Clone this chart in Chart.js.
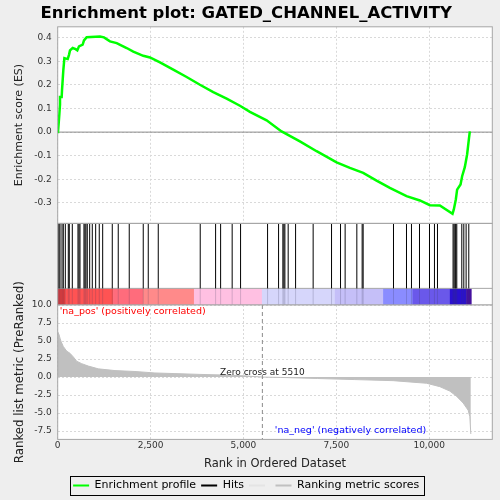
<!DOCTYPE html>
<html>
<head>
<meta charset="utf-8">
<script src="https://cdn.jsdelivr.net/npm/chart.js@4.4.1/dist/chart.umd.min.js"></script>
<style>
  html, body { margin: 0; padding: 0; background: #eeeeee; }
  #wrap { position: relative; width: 500px; height: 500px; overflow: hidden; }
  #wrap canvas { position: absolute; left: 0; }
</style>
</head>
<body>
<div id="wrap">
  <canvas id="esChart" width="500" height="224" style="top:0px"></canvas>
  <canvas id="hitChart" width="500" height="82" style="top:223px"></canvas>
  <canvas id="metricChart" width="500" height="263" style="top:240px"></canvas>
</div>
<script>
'use strict';

// ---- data ----
const xTicks = [0, 2500, 5000, 7500, 10000];
const esTicks = [-0.3, -0.2, -0.1, 0, 0.1, 0.2, 0.3, 0.4];
const metricTicks = [-7.5, -5, -2.5, 0, 2.5, 5, 7.5, 10];
const zeroCross = 5510;

// running enrichment score
const esRanks = [0, 8, 27, 45, 62, 62, 107, 116, 151, 180, 269, 304, 331, 403, 484, 528, 573, 672, 708, 780,
  1138, 1246, 1407, 1588, 1857, 2035, 2304, 2484, 2753, 3111, 3471, 3829, 4188, 4548, 4906, 5175, 5624,
  6027, 6520, 6970, 7508, 7866, 8224, 8584, 8942, 9391, 9750, 10019, 10288, 10629, 10664, 10718, 10753,
  10845, 10888, 10960, 11022, 11068, 11095];
const esScores = [0, 0.001, 0.039, 0.077, 0.117, 0.149, 0.149, 0.177, 0.262, 0.314, 0.310, 0.328, 0.347, 0.357,
  0.352, 0.347, 0.364, 0.371, 0.389, 0.403, 0.406, 0.402, 0.385, 0.378, 0.357, 0.342, 0.324, 0.317, 0.296,
  0.265, 0.234, 0.201, 0.170, 0.142, 0.112, 0.086, 0.050, 0.003, -0.039, -0.081, -0.128, -0.152, -0.173,
  -0.206, -0.237, -0.272, -0.290, -0.310, -0.311, -0.347, -0.328, -0.286, -0.244, -0.222, -0.187, -0.149,
  -0.095, -0.032, 0.003];

// gene set members in the ranked list
const hitRanks = [8, 35, 62, 116, 151, 205, 285, 312, 393, 546, 573, 600, 707, 734, 761, 796, 861, 931, 1022,
  1119, 1211, 1469, 1630, 1926, 2303, 2438, 2707, 3837, 4251, 4386, 4697, 4923, 5650, 5946, 6062, 6089,
  6116, 6205, 6404, 6877, 7372, 7614, 7738, 8053, 8196, 8223, 9040, 9390, 9524, 9740, 10009, 10143,
  10224, 10644, 10671, 10698, 10716, 10744, 10879, 10933, 10995, 11067];

// ranked list metric
const metricRanks = [0, 8, 35, 62, 89, 151, 242, 331, 420, 511, 646, 823, 1093, 1542, 2080, 2618, 3157, 3830,
  4500, 5000, 5510, 6000, 7000, 8000, 9031, 9930, 10288, 10557, 10737, 10915, 11050, 11095, 11122];
const metricValues = [6.3, 6.3, 5.9, 5.4, 4.96, 4.24, 3.6, 3.3, 2.8, 2.2, 1.86, 1.53, 1.14, 0.9, 0.77, 0.57,
  0.48, 0.37, 0.28, 0.18, 0, -0.05, -0.2, -0.35, -0.5, -0.86, -1.33, -1.95, -2.66, -3.6, -4.6, -5.5, -7.9];

// colour bar bands (rank edges)
const bandEdges = [0, 200, 1490, 2295, 3668, 5498, 7460, 8760, 9553, 10557, 11000, 11130];

const legendNames = ['Enrichment profile', 'Hits', '', 'Ranking metric scores'];

// ---- styles ----
const FONT = 'DejaVu Sans';
const xMax = 11700;
const esMin = -0.387, esMax = 0.447;
const metricMin = -8.65, metricMax = 10;
const bandColors = ['#e23c3c', '#ff5353', '#ff6c7c', '#ff8a8a', '#ffc0e2', '#d6d6fb', '#c5bff8',
  '#8a8cff', '#6a58ea', '#2a10d0', '#45109e'];
const legendColors = ['#00ff00', '#000000', '#e4e4e4', '#c0c0c0'];
const gridColor = '#d9d9d9';
const frameColor = '#a6a6a6';
const AXIS_W = 57.7;

function pts(xs, ys) {
  return xs.map(function (x, i) { return { x: x, y: ys[i] }; });
}

// white plot area + grey frame
const panelPlugin = {
  id: 'panel',
  beforeDraw: function (chart) {
    const a = chart.chartArea, ctx = chart.ctx;
    ctx.save();
    ctx.fillStyle = '#ffffff';
    ctx.fillRect(a.left, a.top, a.right - a.left, a.bottom - a.top);
    ctx.restore();
  },
  afterDraw: function (chart) {
    const a = chart.chartArea, ctx = chart.ctx;
    ctx.save();
    ctx.strokeStyle = frameColor;
    ctx.lineWidth = 1;
    ctx.strokeRect(a.left, a.top, a.right - a.left, a.bottom - a.top);
    ctx.restore();
  }
};

//ES chart
const esZeroLine = {
  id: 'esZero',
  beforeDatasetsDraw: function (chart) {
    const a = chart.chartArea, ctx = chart.ctx;
    const y = chart.scales.y.getPixelForValue(0);
    ctx.save();
    ctx.strokeStyle = '#8c8c8c';
    ctx.lineWidth = 1;
    ctx.beginPath();
    ctx.moveTo(a.left, y);
    ctx.lineTo(a.right, y);
    ctx.stroke();
    ctx.restore();
  }
};

new Chart(document.getElementById('esChart'), {
  type: 'line',
  data: {
    datasets: [{
      label: 'Enrichment profile',
      data: pts(esRanks, esScores),
      borderColor: '#00ff00',
      borderWidth: 2.5,
      pointRadius: 0,
      tension: 0
    }]
  },
  options: {
    responsive: false,
    animation: false,
    layout: { padding: { left: 0, right: 7.7, top: 0, bottom: 0.7 } },
    plugins: {
      legend: { display: false },
      tooltip: { enabled: false },
      title: {
        display: true,
        text: 'Enrichment plot: GATED_CHANNEL_ACTIVITY',
        color: '#000000',
        font: { family: FONT, size: 16.5, weight: 'bold' },
        padding: { top: 4, bottom: 3 }
      }
    },
    scales: {
      x: {
        type: 'linear', min: 0, max: xMax,
        afterBuildTicks: function (s) { s.ticks = xTicks.map(function (v) { return { value: v }; }); },
        afterFit: function (s) { s.height = 0; },
        ticks: { display: false },
        grid: { color: gridColor, drawTicks: false },
        border: { display: false, dash: [2, 2] }
      },
      y: {
        min: esMin, max: esMax,
        afterBuildTicks: function (s) { s.ticks = esTicks.map(function (v) { return { value: v }; }); },
        afterFit: function (s) { s.width = AXIS_W; s.paddingTop = 0; s.paddingBottom = 0; },
        ticks: {
          color: '#333333', padding: 6,
          font: { family: FONT, size: 9 },
          callback: function (v) { return Number(v).toFixed(1); }
        },
        title: {
          display: true, text: 'Enrichment score (ES)', color: '#222222',
          font: { family: FONT, size: 11 }, padding: { top: 13, bottom: 0 }
        },
        grid: { color: gridColor, drawTicks: false },
        border: { display: false, dash: [2, 2] }
      }
    }
  },
  plugins: [panelPlugin, esZeroLine]
});

// hits + colour bar
const colorBarTop = 0.204;
const colorBarPlugin = {
  id: 'colorBar',
  beforeDatasetsDraw: function (chart) {
    const x = chart.scales.x, y = chart.scales.y, ctx = chart.ctx;
    const top = y.getPixelForValue(colorBarTop), bottom = y.getPixelForValue(0);
    ctx.save();
    for (let i = 0; i < bandColors.length; i++) {
      const x0 = x.getPixelForValue(bandEdges[i]);
      const x1 = x.getPixelForValue(bandEdges[i + 1]);
      ctx.fillStyle = bandColors[i];
      ctx.fillRect(x0, top, x1 - x0 + 0.5, bottom - top);
    }
    ctx.strokeStyle = frameColor;
    ctx.lineWidth = 1;
    ctx.beginPath();
    ctx.moveTo(chart.chartArea.left, top);
    ctx.lineTo(chart.chartArea.right, top);
    ctx.stroke();
    ctx.restore();
  }
};

const hitLines = [], hitShades = [];
hitRanks.forEach(function (r) {
  hitLines.push({ x: r, y: colorBarTop }, { x: r, y: 1 }, { x: r, y: null });
  hitShades.push({ x: r, y: 0 }, { x: r, y: colorBarTop }, { x: r, y: null });
});

new Chart(document.getElementById('hitChart'), {
  type: 'line',
  data: {
    datasets: [{
      label: 'Hits',
      data: hitLines,
      borderColor: '#000000',
      borderWidth: 1,
      pointRadius: 0,
      spanGaps: false
    }, {
      label: 'hit shade',
      data: hitShades,
      borderColor: 'rgba(60,60,90,0.22)',
      borderWidth: 1,
      pointRadius: 0,
      spanGaps: false
    }]
  },
  options: {
    responsive: false,
    animation: false,
    layout: { padding: { left: AXIS_W, right: 7.7, top: 0.5, bottom: 0 } },
    plugins: { legend: { display: false }, tooltip: { enabled: false }, title: { display: false } },
    scales: {
      x: { type: 'linear', min: 0, max: xMax, display: false },
      y: { min: 0, max: 1, display: false }
    }
  },
  plugins: [panelPlugin, colorBarPlugin]
});

// ranked list metric
const metricNotes = {
  id: 'metricNotes',
  afterDatasetsDraw: function (chart) {
    const a = chart.chartArea, ctx = chart.ctx;
    const xs = chart.scales.x, ys = chart.scales.y;
    const zx = xs.getPixelForValue(zeroCross);
    const zy = ys.getPixelForValue(0);
    ctx.save();
    ctx.strokeStyle = '#8a8a8a';
    ctx.lineWidth = 1;
    ctx.setLineDash([4, 3]);
    ctx.beginPath();
    ctx.moveTo(zx, a.top);
    ctx.lineTo(zx, a.bottom);
    ctx.stroke();
    ctx.setLineDash([]);
    ctx.textBaseline = 'middle';
    ctx.font = '9px "' + FONT + '"';
    ctx.fillStyle = '#222222';
    ctx.textAlign = 'center';
    ctx.fillText('Zero cross at ' + zeroCross, zx, zy - 4);
    ctx.font = '9.5px "' + FONT + '"';
    ctx.fillStyle = '#ff0000';
    ctx.textAlign = 'left';
    ctx.fillText("'na_pos' (positively correlated)", a.left + 2, a.top + 7);
    ctx.fillStyle = '#0000ff';
    ctx.textAlign = 'right';
    ctx.fillText("'na_neg' (negatively correlated)", xs.getPixelForValue(10000) - 3, ys.getPixelForValue(-7.5) - 0.5);
    ctx.restore();
  },
  afterDraw: function (chart) {
    const boxes = chart.legend.legendHitBoxes;
    if (!boxes || !boxes.length) return;
    let l = Infinity, r = -Infinity, t = Infinity, b = -Infinity;
    boxes.forEach(function (h) {
      l = Math.min(l, h.left); r = Math.max(r, h.left + h.width);
      t = Math.min(t, h.top); b = Math.max(b, h.top + h.height);
    });
    const ctx = chart.ctx;
    ctx.save();
    ctx.strokeStyle = '#000000';
    ctx.lineWidth = 1;
    ctx.strokeRect(Math.round(l - 3) + 0.5, Math.round(t - 4) + 0.5, Math.round(r - l + 8), Math.round(b - t + 8));
    ctx.restore();
  }
};

new Chart(document.getElementById('metricChart'), {
  type: 'line',
  data: {
    datasets: [{
      label: 'Ranking metric scores',
      data: pts(metricRanks, metricValues),
      borderColor: '#c0c0c0',
      backgroundColor: '#c0c0c0',
      borderWidth: 1,
      pointRadius: 0,
      fill: 'origin',
      tension: 0
    }]
  },
  options: {
    responsive: false,
    animation: false,
    layout: { padding: { left: 0, right: 7.7, top: 65, bottom: 2 } },
    plugins: {
      tooltip: { enabled: false },
      title: { display: false },
      legend: {
        display: true,
        position: 'bottom',
        onClick: null,
        labels: {
          boxWidth: 16, boxHeight: 2, padding: 5,
          color: '#000000',
          font: { family: FONT, size: 11 },
          generateLabels: function () {
            return legendNames.map(function (t, i) {
              return { text: t, fillStyle: legendColors[i], strokeStyle: legendColors[i], lineWidth: 0, hidden: false };
            });
          }
        }
      }
    },
    scales: {
      x: {
        type: 'linear', min: 0, max: xMax,
        afterBuildTicks: function (s) { s.ticks = xTicks.map(function (v) { return { value: v }; }); },
        ticks: {
          color: '#333333', padding: 1,
          font: { family: FONT, size: 9 },
          callback: function (v) { return Number(v).toLocaleString('en-US'); }
        },
        title: {
          display: true, text: 'Rank in Ordered Dataset', color: '#222222',
          font: { family: FONT, size: 11.5 }, padding: { top: 5, bottom: 4 }
        },
        grid: { color: gridColor, drawTicks: false },
        border: { display: false, dash: [2, 2] }
      },
      y: {
        min: metricMin, max: metricMax,
        afterBuildTicks: function (s) { s.ticks = metricTicks.map(function (v) { return { value: v }; }); },
        afterFit: function (s) { s.width = AXIS_W; },
        ticks: {
          color: '#333333', padding: 6,
          font: { family: FONT, size: 9 },
          callback: function (v) { return Number(v).toFixed(1); }
        },
        title: {
          display: true, text: 'Ranked list metric (PreRanked)', color: '#222222',
          font: { family: FONT, size: 11.8 }, padding: { top: 13, bottom: 0 }
        },
        grid: { color: gridColor, drawTicks: false },
        border: { display: false, dash: [2, 2] }
      }
    }
  },
  plugins: [panelPlugin, metricNotes]
});
</script>
</body>
</html>
